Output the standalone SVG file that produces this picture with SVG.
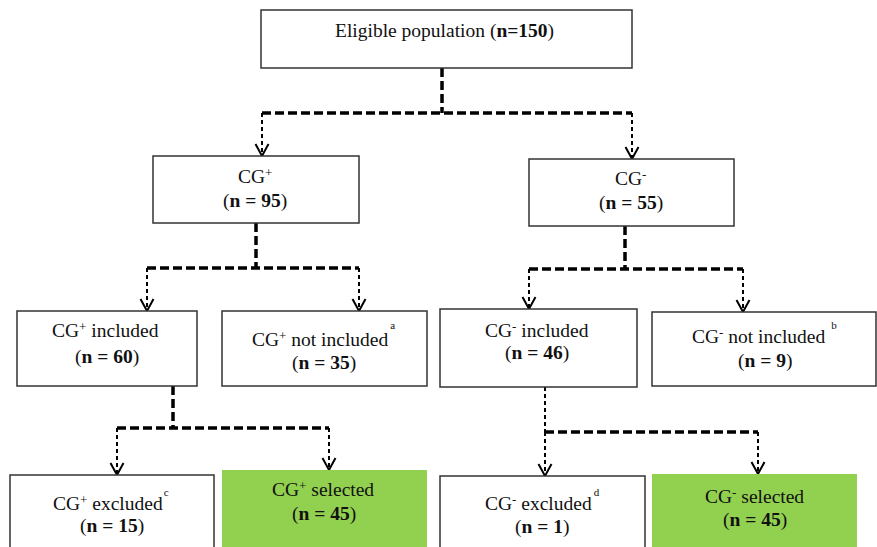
<svg xmlns="http://www.w3.org/2000/svg" width="877" height="547" viewBox="0 0 877 547">
<defs>
<marker id="arr" markerUnits="userSpaceOnUse" markerWidth="16" markerHeight="18" refX="13" refY="8" orient="auto" viewBox="0 0 16 16">
<path d="M1,1.5 L13,8 L1,14.5" fill="none" stroke="#000" stroke-width="2"/>
</marker>
<style>
.box{fill:#fff;stroke:#333;stroke-width:1.5}
.green{fill:#92d050;stroke:none}
.t{font-family:'Liberation Serif','DejaVu Serif',serif;font-size:19.5px;fill:#111}
.b{font-weight:bold}
.sup{font-size:13px}
.ss{font-size:11px}
.thick{fill:none;stroke:#000;stroke-width:3.5;stroke-dasharray:9 4}
.thin{fill:none;stroke:#000;stroke-width:2;stroke-dasharray:4 3}
</style>
</defs>
<rect width="877" height="547" fill="#fff"/>

<g id="connectors">
<path class="thick" d="M442,68 V113"/>
<path class="thick" d="M262,113 H632"/>
<path class="thin" d="M262,113 V156" marker-end="url(#arr)"/>
<path class="thin" d="M632,113 V159" marker-end="url(#arr)"/>

<path class="thick" d="M256,223 V268"/>
<path class="thick" d="M147,268 H359"/>
<path class="thin" d="M147,268 V311" marker-end="url(#arr)"/>
<path class="thin" d="M359,268 V311" marker-end="url(#arr)"/>

<path class="thick" d="M625,226 V269"/>
<path class="thick" d="M529,269 H743"/>
<path class="thin" d="M529,269 V309" marker-end="url(#arr)"/>
<path class="thin" d="M743,269 V312" marker-end="url(#arr)"/>

<path class="thick" d="M173,386 V428"/>
<path class="thick" d="M117,428 H329"/>
<path class="thin" d="M117,428 V475" marker-end="url(#arr)"/>
<path class="thin" d="M329,428 V470" marker-end="url(#arr)"/>

<path class="thin" d="M545,387 V432"/>
<path class="thick" d="M545,432 H758"/>
<path class="thin" d="M545,432 V476" marker-end="url(#arr)"/>
<path class="thin" d="M758,432 V474" marker-end="url(#arr)"/>
</g>

<g font-family="Liberation Serif, DejaVu Serif, serif" font-size="19.5">
<g id="eligible">
<rect class="box" x="261" y="10" width="371" height="58"/>
<text class="t" x="335" y="37">Eligible population (<tspan class="b">n=150</tspan>)</text>
</g>

<g id="cgpos">
<rect class="box" x="153" y="156" width="206" height="67"/>
<text class="t" x="238" y="183">CG<tspan class="sup" dy="-6">+</tspan></text>
<text class="t" x="223" y="207">(<tspan class="b">n = 95</tspan>)</text>
</g>

<g id="cgneg">
<rect class="box" x="529" y="159" width="205" height="67"/>
<text class="t" x="615" y="185">CG<tspan class="sup" dy="-6">-</tspan></text>
<text class="t" x="599" y="209">(<tspan class="b">n = 55</tspan>)</text>
</g>

<g id="cgpos-included">
<rect class="box" x="17" y="311" width="180" height="75"/>
<text class="t" x="52" y="337">CG<tspan class="sup" dy="-6">+</tspan><tspan dy="6"> included</tspan></text>
<text class="t" x="75" y="363">(<tspan class="b">n = 60</tspan>)</text>
</g>

<g id="cgpos-not-included">
<rect class="box" x="222" y="311" width="205" height="75"/>
<text class="t" x="252" y="346">CG<tspan class="sup" dy="-6">+</tspan><tspan dy="6"> not included</tspan><tspan class="ss" dx="2" dy="-17">a</tspan></text>
<text class="t" x="292" y="369">(<tspan class="b">n = 35</tspan>)</text>
</g>

<g id="cgneg-included">
<rect class="box" x="440" y="309" width="197" height="78"/>
<text class="t" x="485" y="337">CG<tspan class="sup" dy="-6">-</tspan><tspan dy="6"> included</tspan></text>
<text class="t" x="505" y="359">(<tspan class="b">n = 46</tspan>)</text>
</g>

<g id="cgneg-not-included">
<rect class="box" x="652" y="312" width="224" height="74"/>
<text class="t" x="692" y="343">CG<tspan class="sup" dy="-6">-</tspan><tspan dy="6"> not included</tspan><tspan class="ss" dx="6" dy="-14">b</tspan></text>
<text class="t" x="738" y="367">(<tspan class="b">n = 9</tspan>)</text>
</g>

<g id="cgpos-excluded">
<rect class="box" x="10" y="475" width="204" height="80"/>
<text class="t" x="53" y="510">CG<tspan class="sup" dy="-6">+</tspan><tspan dy="6"> excluded</tspan><tspan class="ss" dx="1" dy="-14">c</tspan></text>
<text class="t" x="80" y="532">(<tspan class="b">n = 15</tspan>)</text>
</g>

<g id="cgpos-selected">
<rect class="green" x="222" y="470" width="205" height="80"/>
<text class="t" x="272" y="496">CG<tspan class="sup" dy="-6">+</tspan><tspan dy="6"> selected</tspan></text>
<text class="t" x="292" y="520">(<tspan class="b">n = 45</tspan>)</text>
</g>

<g id="cgneg-excluded">
<rect class="box" x="440" y="476" width="205" height="80"/>
<text class="t" x="485" y="510">CG<tspan class="sup" dy="-6">-</tspan><tspan dy="6"> excluded</tspan><tspan class="ss" dx="2" dy="-14">d</tspan></text>
<text class="t" x="515" y="533">(<tspan class="b">n = 1</tspan>)</text>
</g>

<g id="cgneg-selected">
<rect class="green" x="652" y="474" width="205" height="80"/>
<text class="t" x="705" y="503">CG<tspan class="sup" dy="-6">-</tspan><tspan dy="6"> selected</tspan></text>
<text class="t" x="723" y="526">(<tspan class="b">n = 45</tspan>)</text>
</g>
</g>
</svg>
